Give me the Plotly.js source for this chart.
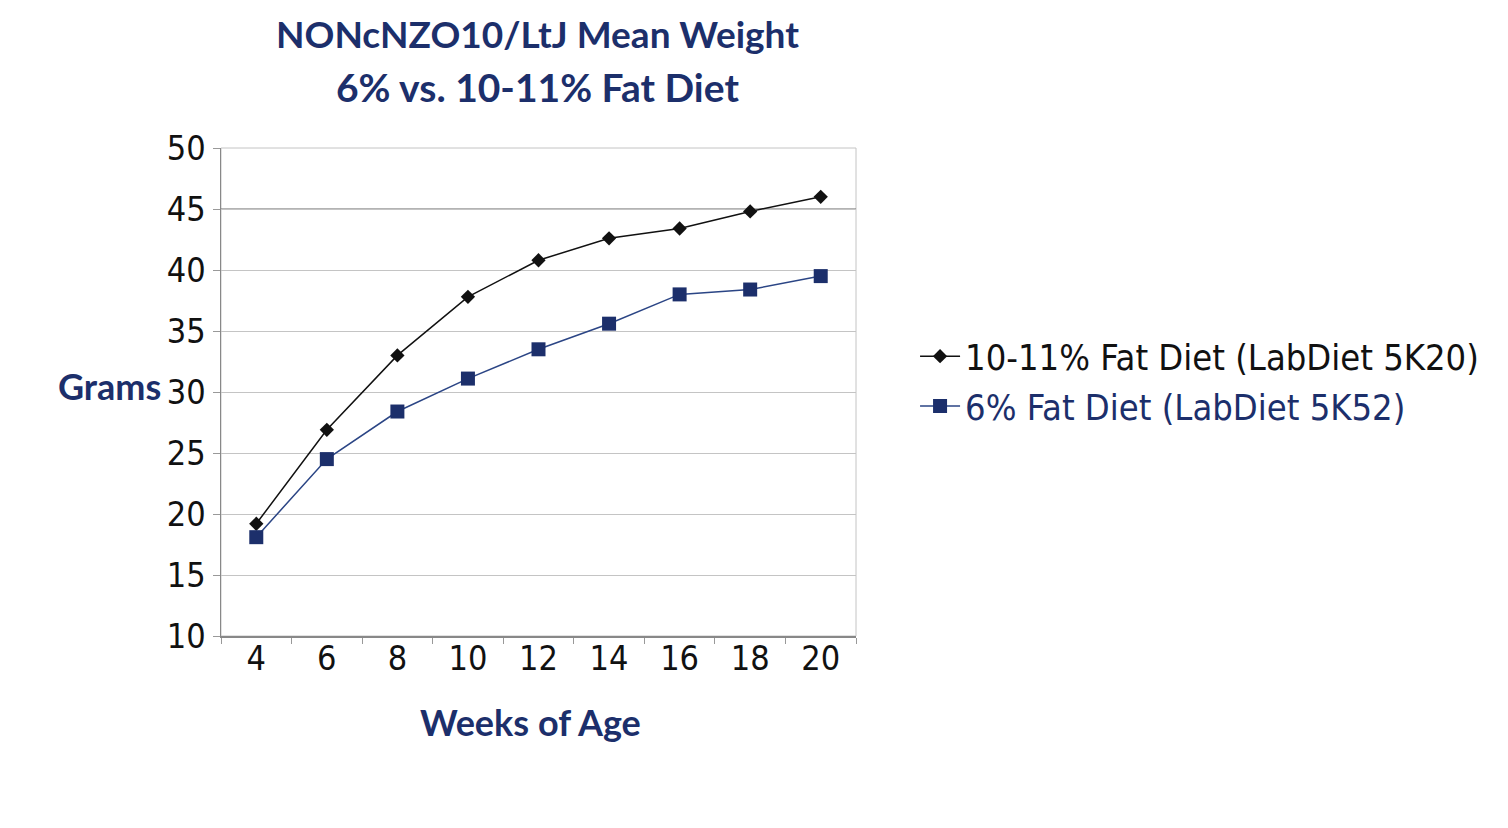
<!DOCTYPE html>
<html>
<head>
<meta charset="utf-8">
<script src="https://cdn.plot.ly/plotly-3.0.1.min.js"></script>
<style>html,body{margin:0;padding:0;background:#fff;}#chart{width:1508px;height:828px;}</style>
</head>
<body>
<div id="chart"></div>
<script>
const weeks = ['4','6','8','10','12','14','16','18','20'];
const highFat = [19.2, 26.9, 33.0, 37.8, 40.8, 42.6, 43.4, 44.8, 46.0];
const lowFat = [18.1, 24.5, 28.4, 31.1, 33.5, 35.6, 38.0, 38.4, 39.5];
const yTicks = [10, 15, 20, 25, 30, 35, 40, 45, 50];
const seriesNames = ['10-11% Fat Diet (LabDiet 5K20)', '6% Fat Diet (LabDiet 5K52)'];
const titleLines = ['NONcNZO10/LtJ Mean Weight', '6% vs. 10-11% Fat Diet'];

const NAVY = '#1c2f6b';
const narrow = '"Liberation Sans Narrow", "DejaVu Sans Condensed", "Roboto", sans-serif';
const boldFont = 'Lato, "Open Sans", sans-serif';

const traces = [
  {
    x: weeks, y: highFat, type: 'scatter', mode: 'lines+markers',
    name: seriesNames[0],
    line: {color: '#111111', width: 1.5},
    marker: {symbol: 'diamond', size: 11, color: '#111111'}
  },
  {
    x: weeks, y: lowFat, type: 'scatter', mode: 'lines+markers',
    name: '<span style="color:' + NAVY + '">' + seriesNames[1] + '</span>',
    line: {color: '#2b4585', width: 1.5},
    marker: {symbol: 'square', size: 14, color: NAVY}
  }
];

const layout = {
  width: 1508, height: 828,
  paper_bgcolor: '#fff', plot_bgcolor: '#fff',
  margin: {l: 221, r: 652, t: 148, b: 192},
  font: {family: narrow, color: '#111'},
  xaxis: {
    type: 'category', tickvals: weeks, ticktext: weeks,
    tickson: 'boundaries', ticks: 'outside', ticklen: 6, tickcolor: '#999',
    showline: true, linecolor: '#888', linewidth: 1.5,
    showgrid: false, zeroline: false,
    tickfont: {family: narrow, size: 34, color: '#111'},
    ticklabelstandoff: -8,
    range: [-0.5, 8.5]
  },
  yaxis: {
    range: [10, 50], tickvals: yTicks, ticktext: yTicks.map(String),
    ticks: 'outside', ticklen: 7, tickcolor: '#999',
    showline: true, linecolor: '#888', linewidth: 1.5,
    showgrid: true, gridcolor: '#c4c4c4', gridwidth: 1, zeroline: false,
    tickfont: {family: narrow, size: 34, color: '#111'}
  },
  shapes: [
    {type: 'rect', xref: 'paper', yref: 'paper', x0: 0, x1: 1, y0: 0, y1: 1,
     line: {color: '#c4c4c4', width: 1}, layer: 'below'},
    {type: 'line', xref: 'paper', yref: 'y', x0: 0, x1: 1, y0: 45, y1: 45,
     line: {color: '#666', width: 1}, layer: 'below'}
  ],
  annotations: [
    {text: '<b>' + titleLines[0] + '</b>', xref: 'paper', yref: 'paper',
     x: (537 - 221) / 635, y: (636 - 33) / 488, xanchor: 'center', yanchor: 'middle',
     showarrow: false, font: {family: boldFont, size: 37, color: NAVY}},
    {text: '<b>' + titleLines[1] + '</b>', xref: 'paper', yref: 'paper',
     x: (537 - 221) / 635, y: (636 - 87) / 488, xanchor: 'center', yanchor: 'middle',
     showarrow: false, font: {family: boldFont, size: 39, color: NAVY}},
    {text: '<b>Grams</b>', xref: 'paper', yref: 'y', x: -0.092, y: 30.5,
     xanchor: 'right', yanchor: 'middle', showarrow: false,
     font: {family: boldFont, size: 36, color: NAVY}},
    {text: '<b>Weeks of Age</b>', xref: 'paper', yref: 'paper', x: 0.487, y: -0.176,
     xanchor: 'center', yanchor: 'middle', showarrow: false,
     font: {family: boldFont, size: 36, color: NAVY}}
  ],
  showlegend: true,
  legend: {
    x: 1.093, y: 0.522, xanchor: 'left', yanchor: 'middle',
    font: {family: narrow, size: 36, color: '#111'},
    bgcolor: 'rgba(0,0,0,0)', tracegroupgap: 0, itemwidth: 40
  }
};

Plotly.newPlot('chart', traces, layout, {displayModeBar: false, staticPlot: true});
</script>
</body>
</html>
